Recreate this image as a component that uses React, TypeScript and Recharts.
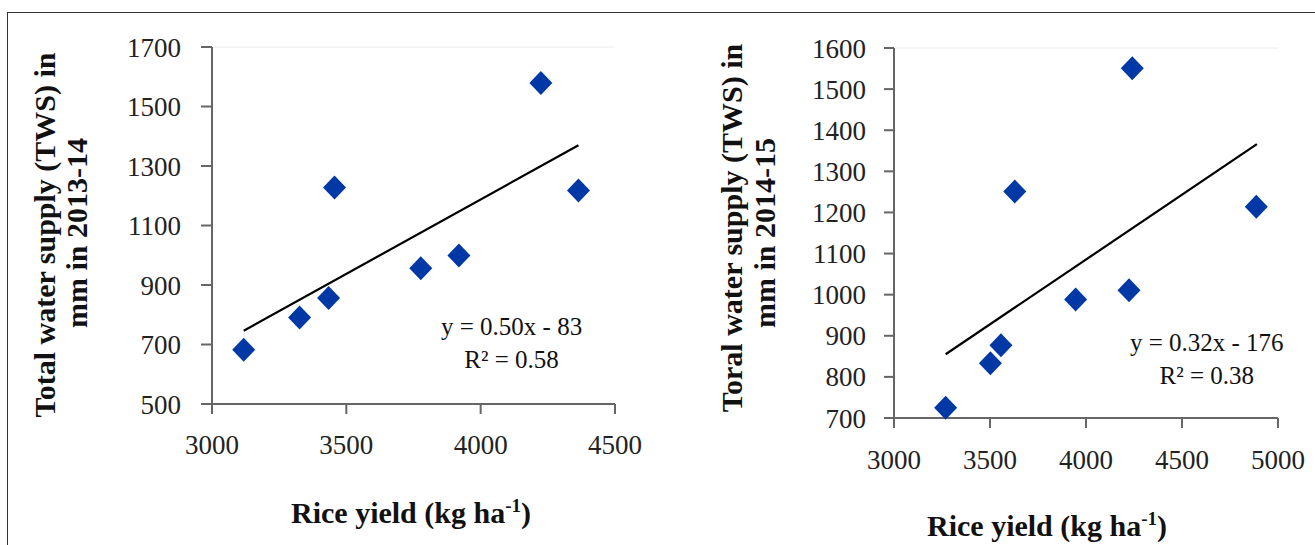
import {
  Label,
  ReferenceDot,
  ReferenceLine,
  Scatter,
  ScatterChart,
  XAxis,
  YAxis,
} from "recharts";

// 2013-14 season
const yield2013 = [3118, 3326, 3434, 3456, 3777, 3919, 4224, 4364];
const tws2013 = [682, 791, 856, 1228, 956, 999, 1579, 1218];
const trendX2013 = [3118, 4364];
const trendY2013 = [746, 1370];
const xTicks2013 = [3000, 3500, 4000, 4500];
const yTicks2013 = [500, 700, 900, 1100, 1300, 1500, 1700];

// 2014-15 season
const yield2014 = [3269, 3502, 3557, 3629, 3946, 4224, 4241, 4887];
const tws2014 = [725, 833, 877, 1251, 988, 1011, 1551, 1214];
const trendX2014 = [3269, 4890];
const trendY2014 = [855, 1366];
const xTicks2014 = [3000, 3500, 4000, 4500, 5000];
const yTicks2014 = [700, 800, 900, 1000, 1100, 1200, 1300, 1400, 1500, 1600];

const toPoints = (xs: number[], ys: number[]) =>
  xs.map((x, i) => ({ x, y: ys[i] }));

const FONT = "'Liberation Serif', 'Times New Roman', serif";
const BLUE = "#0039a6";
const AXIS = "#666666";

const Diamond = (props: any) => {
  const { cx, cy } = props;
  if (cx == null || cy == null) return <g />;
  return (
    <path
      d={`M${cx},${cy - 12}L${cx + 11.5},${cy}L${cx},${cy + 12}L${cx - 11.5},${cy}Z`}
      fill={BLUE}
    />
  );
};

const XTick = ({ x, y, payload }: any) => (
  <text
    x={x}
    y={y}
    dy="0.71em"
    textAnchor="middle"
    fontFamily={FONT}
    fontSize={27}
    fill="#222"
  >
    {payload.value}
  </text>
);

const YTick = ({ x, y, payload }: any) => (
  <text
    x={x}
    y={y}
    dy="0.355em"
    textAnchor="end"
    fontFamily={FONT}
    fontSize={27}
    fill="#222"
  >
    {payload.value}
  </text>
);

function XTitle({ x, y }: { x: number; y: number }) {
  return (
    <text
      x={x}
      y={y}
      textAnchor="middle"
      fontFamily={FONT}
      fontWeight="bold"
      fontSize={30}
      fill="#111"
    >
      <tspan>Rice yield (kg ha</tspan>
      <tspan dy={-11} fontSize={19}>
        -1
      </tspan>
      <tspan dy={11}>)</tspan>
    </text>
  );
}

function YTitle({
  x1,
  x2,
  y1,
  y2,
  line1,
  line2,
}: {
  x1: number;
  x2: number;
  y1: number;
  y2: number;
  line1: string;
  line2: string;
}) {
  const common = {
    textAnchor: "middle" as const,
    fontFamily: FONT,
    fontWeight: "bold",
    fontSize: 30,
    fill: "#111",
  };
  return (
    <g>
      <text x={x1} y={y1} transform={`rotate(-90 ${x1} ${y1})`} {...common}>
        {line1}
      </text>
      <text x={x2} y={y2} transform={`rotate(-90 ${x2} ${y2})`} {...common}>
        {line2}
      </text>
    </g>
  );
}

function Equation({ viewBox, eq, r2 }: any) {
  const cx = viewBox.x + viewBox.width / 2;
  const cy = viewBox.y + viewBox.height / 2;
  return (
    <text textAnchor="middle" fontFamily={FONT} fontSize={25} fill="#111">
      <tspan x={cx} y={cy}>
        {eq}
      </tspan>
      <tspan x={cx} y={cy + 33}>
        {r2}
      </tspan>
    </text>
  );
}

export default function App() {
  return (
    <div
      style={{
        position: "absolute",
        left: 0,
        top: 0,
        width: 1315,
        height: 545,
        background: "#fff",
        overflow: "hidden",
      }}
    >
      <div
        style={{
          position: "absolute",
          left: 7,
          top: 12,
          width: 1320,
          height: 540,
          borderTop: "1.5px solid #333",
          borderLeft: "1.5px solid #333",
        }}
      />

      <div style={{ position: "absolute", left: 0, top: 0 }}>
        <ScatterChart
          width={660}
          height={545}
          margin={{ top: 47, right: 45, left: 0, bottom: 0 }}
        >
          <XAxis
            type="number"
            dataKey="x"
            domain={[3000, 4500]}
            ticks={xTicks2013}
            interval={0}
            height={141}
            tick={<XTick />}
            tickSize={10}
            tickMargin={21}
            axisLine={{ stroke: AXIS, strokeWidth: 2 }}
            tickLine={{ stroke: AXIS, strokeWidth: 2 }}
          >
            <Label content={() => <XTitle x={411} y={523} />} />
          </XAxis>
          <YAxis
            type="number"
            dataKey="y"
            domain={[500, 1700]}
            ticks={yTicks2013}
            interval={0}
            width={212}
            tick={<YTick />}
            tickSize={11}
            tickMargin={20}
            axisLine={{ stroke: AXIS, strokeWidth: 2 }}
            tickLine={{ stroke: AXIS, strokeWidth: 2 }}
          >
            <Label
              content={() => (
                <YTitle
                  x1={55}
                  x2={87}
                  y1={235}
                  y2={233}
                  line1="Total water supply (TWS) in"
                  line2="mm in 2013-14"
                />
              )}
            />
          </YAxis>
          <ReferenceLine y={1700} stroke="#ececec" strokeWidth={1} />
          <Scatter
            data={toPoints(trendX2013, trendY2013)}
            line={{ stroke: "#000", strokeWidth: 2.2 }}
            shape={() => <g />}
            isAnimationActive={false}
          />
          <Scatter
            data={toPoints(yield2013, tws2013)}
            shape={Diamond}
            isAnimationActive={false}
          />
          <ReferenceDot
            x={4115}
            y={733}
            r={0}
            fill="none"
            stroke="none"
            label={(p: any) => (
              <Equation {...p} eq="y = 0.50x - 83" r2="R² = 0.58" />
            )}
          />
        </ScatterChart>
      </div>

      <div style={{ position: "absolute", left: 660, top: 0 }}>
        <ScatterChart
          width={655}
          height={545}
          margin={{ top: 48, right: 37, left: 0, bottom: 0 }}
        >
          <XAxis
            type="number"
            dataKey="x"
            domain={[3000, 5000]}
            ticks={xTicks2014}
            interval={0}
            height={127}
            tick={<XTick />}
            tickSize={10}
            tickMargin={22}
            axisLine={{ stroke: AXIS, strokeWidth: 2 }}
            tickLine={{ stroke: AXIS, strokeWidth: 2 }}
          >
            <Label content={() => <XTitle x={387} y={536} />} />
          </XAxis>
          <YAxis
            type="number"
            dataKey="y"
            domain={[700, 1600]}
            ticks={yTicks2014}
            interval={0}
            width={234}
            tick={<YTick />}
            tickSize={10}
            tickMargin={18}
            axisLine={{ stroke: AXIS, strokeWidth: 2 }}
            tickLine={{ stroke: AXIS, strokeWidth: 2 }}
          >
            <Label
              content={() => (
                <YTitle
                  x1={82}
                  x2={115}
                  y1={228}
                  y2={233}
                  line1="Toral water supply (TWS) in"
                  line2="mm in 2014-15"
                />
              )}
            />
          </YAxis>
          <ReferenceLine y={1600} stroke="#ececec" strokeWidth={1} />
          <Scatter
            data={toPoints(trendX2014, trendY2014)}
            line={{ stroke: "#000", strokeWidth: 2.2 }}
            shape={() => <g />}
            isAnimationActive={false}
          />
          <Scatter
            data={toPoints(yield2014, tws2014)}
            shape={Diamond}
            isAnimationActive={false}
          />
          <ReferenceDot
            x={4629}
            y={863}
            r={0}
            fill="none"
            stroke="none"
            label={(p: any) => (
              <Equation {...p} eq="y = 0.32x - 176" r2="R² = 0.38" />
            )}
          />
        </ScatterChart>
      </div>
    </div>
  );
}
